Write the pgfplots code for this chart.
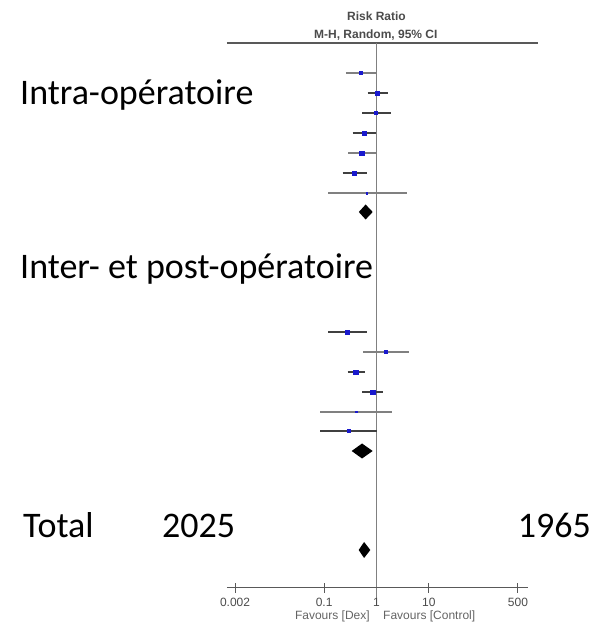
\documentclass[border=0pt]{standalone}
\usepackage{fontspec}
\setmainfont{Carlito}
\newfontfamily\arialf{Liberation Sans}
\usepackage{pgfplots}
\pgfplotsset{compat=1.18}
\usepackage{pgfplotstable}
\definecolor{mblue}{RGB}{25,25,205}
\definecolor{txtgray}{RGB}{75,75,75}
\definecolor{favgray}{RGB}{100,100,100}

% risk ratio, lower CI, upper CI, row position, marker half-size
\pgfplotstableread{
rr   lo    hi   y   ms
0.51 0.26  1.03 559 1.5
1.03 0.68  1.66 539 2.0
0.98 0.53  1.89 519 1.6
0.58 0.35  0.98 499 2.1
0.52 0.29  0.98 479 2.1
0.38 0.225 0.65 459 2.1
0.65 0.12  3.87 439 0.8
}\intra
\pgfplotstableread{
rr   lo    hi   y   ms
0.28 0.12  0.67 300 1.9
1.52 0.56  4.17 280 1.6
0.40 0.28  0.61 260 2.1
0.85 0.53  1.33 240 2.1
0.41 0.084 2.00 220 0.7
0.30 0.084 1.03 201 1.5
}\inter

\begin{document}
\begin{tikzpicture}
\begin{axis}[at={(0,0)}, anchor=south west, scale only axis,
  width=595pt, height=632pt,
  xmode=log, xmin=6.53e-8, xmax=14791, ymin=0, ymax=632,
  hide axis, clip=false,
  ci/.style={draw=black!75, line width=1.6pt},
  cil/.style={draw=black!50, line width=1.2pt},
  axl/.style={draw=black!65, line width=1pt},
  pts/.style={only marks, mark=square*, scatter, point meta=explicit,
    scatter/use mapped color={draw=mblue,fill=mblue},
    visualization depends on={\thisrow{ms}\as\msz},
    scatter/@pre marker code/.append style={/tikz/mark size=\msz pt, /tikz/line width=0.1pt}}]
\path (rel axis cs:0,0) rectangle (rel axis cs:1,1);
% frame lines
\addplot[draw=black!65, line width=1.2pt] coordinates {(0.0014,589) (1208,589)};
\addplot[draw=black!50, line width=1.4pt] coordinates {(1,589) (1,34)};
\addplot[axl] coordinates {(0.0014,44) (778,44)};
\addplot[axl] coordinates {(0.002,39) (0.002,49)};
\addplot[axl] coordinates {(0.1,39) (0.1,49)};
\addplot[axl] coordinates {(10,39) (10,49)};
\addplot[axl] coordinates {(500,39) (500,49)};
% intra CIs
\addplot[cil] coordinates {(0.26,559) (1.03,559)};
\addplot[ci]  coordinates {(0.68,539) (1.66,539)};
\addplot[ci]  coordinates {(0.53,519) (1.89,519)};
\addplot[ci]  coordinates {(0.35,499) (0.98,499)};
\addplot[cil] coordinates {(0.29,479) (0.98,479)};
\addplot[ci]  coordinates {(0.225,459) (0.65,459)};
\addplot[cil] coordinates {(0.12,439) (3.87,439)};
% inter CIs
\addplot[ci]  coordinates {(0.12,300) (0.67,300)};
\addplot[cil] coordinates {(0.56,280) (4.17,280)};
\addplot[ci]  coordinates {(0.28,260) (0.61,260)};
\addplot[ci]  coordinates {(0.53,240) (1.33,240)};
\addplot[cil] coordinates {(0.084,220) (2.00,220)};
\addplot[ci]  coordinates {(0.084,201) (1.03,201)};
% point estimates
\addplot[pts] table[x=rr,y=y,meta=ms]{\intra};
\addplot[pts] table[x=rr,y=y,meta=ms]{\inter};
% pooled diamonds
\addplot[fill=black, draw=none] coordinates {(0.46,420) (0.62,427.5) (0.846,420) (0.62,412.5)} --cycle;
\addplot[fill=black, draw=none] coordinates {(0.336,181) (0.53,188.5) (0.846,181) (0.53,173.5)} --cycle;
\addplot[fill=black, draw=none] coordinates {(0.457,82) (0.58,90) (0.762,82) (0.58,74)} --cycle;
% header and axis text
\node[font=\arialf\bfseries\fontsize{12}{14}\selectfont, text=txtgray] at (axis cs:1,616) {Risk Ratio};
\node[font=\arialf\bfseries\fontsize{12}{14}\selectfont, text=txtgray] at (axis cs:0.97,597) {M-H, Random, 95\% CI};
\node[font=\arialf\fontsize{12}{13}\selectfont, text=txtgray, inner sep=0pt] at (axis cs:0.002,30) {0.002};
\node[font=\arialf\fontsize{12}{13}\selectfont, text=txtgray, inner sep=0pt] at (axis cs:0.1,30) {0.1};
\node[font=\arialf\fontsize{12}{13}\selectfont, text=txtgray, inner sep=0pt] at (axis cs:1,30) {1};
\node[font=\arialf\fontsize{12}{13}\selectfont, text=txtgray, inner sep=0pt] at (axis cs:10,30) {10};
\node[font=\arialf\fontsize{12}{13}\selectfont, text=txtgray, inner sep=0pt] at (axis cs:500,30) {500};
\node[font=\arialf\fontsize{12}{13}\selectfont, text=favgray, anchor=east, inner sep=0pt] at (axis cs:0.75,15.5) {Favours [Dex]};
\node[font=\arialf\fontsize{12}{13}\selectfont, text=favgray, anchor=west, inner sep=0pt] at (axis cs:1.33,15.5) {Favours [Control]};
\end{axis}
\begin{scope}[every node/.style={anchor=base west, inner sep=0pt, font=\fontsize{36}{42}\selectfont}]
\node at (20pt,527pt) {Intra-opératoire};
\node at (20pt,353pt) {Inter- et post-opératoire};
\node at (23pt,94.5pt) {Total};
\node at (162pt,94.5pt) {2025};
\node[anchor=base east] at (591pt,94.5pt) {1965};
\end{scope}
\end{tikzpicture}
\end{document}
